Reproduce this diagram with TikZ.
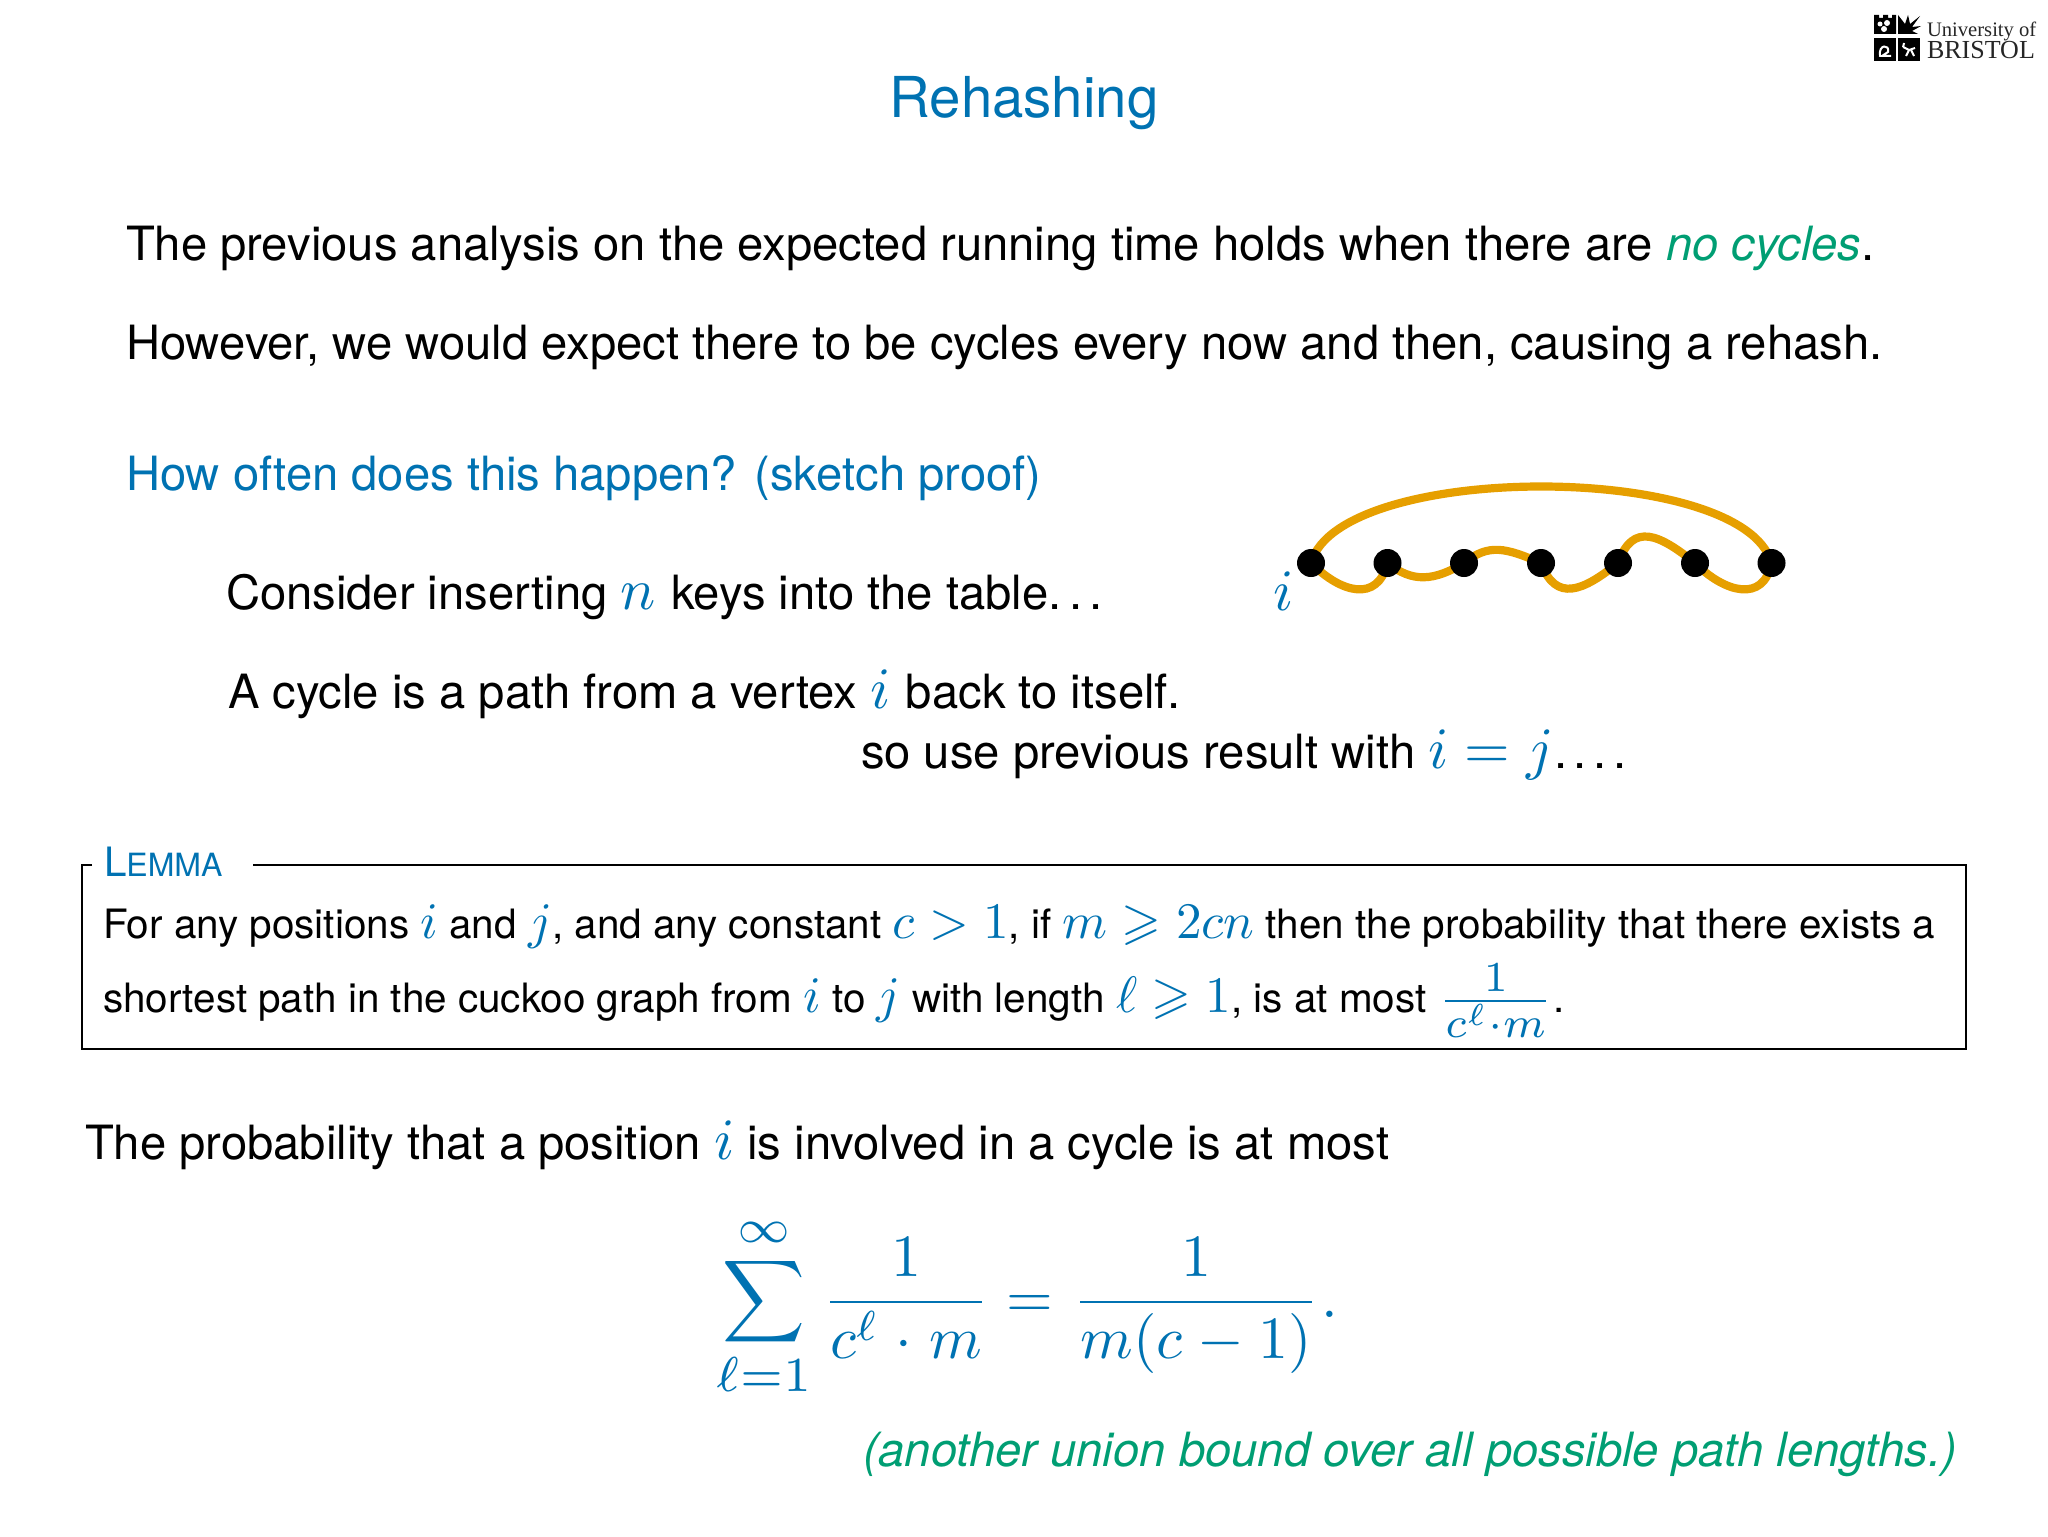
\documentclass[tikz,border=0pt]{standalone}
\usepackage{amsmath,amssymb}
\usepackage[no-math]{fontspec}
\setmainfont{TeX Gyre Heros}
\newfontfamily\logofont{Liberation Serif}
\usetikzlibrary{backgrounds}
\definecolor{bl}{HTML}{0072B2}
\definecolor{gr}{HTML}{009E73}
\definecolor{og}{HTML}{E69F00}
\newcommand\mth[2][2.93]{\scalebox{#1}{\fontsize{10}{12}\selectfont\color{bl}$#2$}}
\newcommand\lm[1]{\mth[2.56]{#1}}
\newcommand\dts{.\kern3.8pt.\kern3.8pt.}
\tikzset{
  txt/.style={anchor=base west,inner sep=0pt,outer sep=0pt,text=black,font=\fontsize{23.6}{28}\selectfont},
  lemtxt/.style={txt,font=\fontsize{20.22}{24}\selectfont},
  vtx/.style={circle,fill=black,inner sep=0pt,minimum size=14pt},
  edgeline/.style={draw=og,line width=4.1pt},
  eqpart/.style={anchor=base,inner sep=0pt,outer sep=0pt},
  logotxt/.style={anchor=base west,inner sep=0pt,outer sep=0pt,text=black!85,font=\logofont}
}
\begin{document}
\begin{tikzpicture}[x=0.5pt,y=-0.5pt]
\useasboundingbox (0,0) rectangle (2048,1536);
% logo
\fill[black] (1874,15) -- (1879,15) -- (1879,18) -- (1883,18) -- (1883,15) -- (1888,15) -- (1888,18) -- (1892,18) -- (1892,15) -- (1896,15) -- (1896,34) -- (1874,34) -- cycle;
\fill[black] (1898,34) -- (1898,15) -- (1905,24) -- (1908,15) -- (1910,24) -- (1920,16) -- (1912,27) -- (1921,26) -- (1912,31) -- (1918,34) -- cycle;
\fill[black] (1874,38) rectangle (1896,61);
\fill[black] (1898,38) rectangle (1920,61);
\fill[white] (1880,24) circle[radius=2.5] (1887,23) circle[radius=3] (1884,29) circle[radius=3];
\draw[white,line width=1pt] (1880,56) .. controls (1878,44) and (1890,44) .. (1888,52) -- (1882,56) -- (1891,56);
\draw[white,line width=1pt] (1903,47) -- (1909,50) -- (1915,48) (1909,50) -- (1906,56) (1911,50) -- (1914,56) (1904,43) -- (1903,47);
\node[logotxt,font=\logofont\fontsize{10.3}{12}\selectfont] (logoa) at (1927,37) {University of};
\node[logotxt,font=\logofont\fontsize{13}{15}\selectfont] (logob) at (1927,59) {BRISTOL};
% title
\node[txt,anchor=base,text=bl,font=\fontsize{28.2}{32}\selectfont] (title) at (1024,118) {Rehashing};
\node[txt] (l1) at (126,260) {The previous analysis on the expected running time holds when there are \textcolor{gr}{\itshape no cycles}.};
\node[txt] (l2) at (126,359) {However, we would expect there to be cycles every now and then, causing a rehash.};
\node[txt,text=bl] (l3) at (126,490) {How often does this happen? (sketch proof)};
\node[txt] (l4) at (226,609) {Consider inserting \mth{n}\kern1pt{} keys into the table\dts};
\node[txt] (l5) at (228,708) {A cycle is a path from a vertex \mth{i}\kern1pt{} back to itself.};
\node[txt] (l6) at (861,768) {so use previous result with \mth{i=j}.\kern3.3pt.\kern3.3pt.\kern3.3pt.};
% graph
\node[vtx] (n1) at (1311,563) {};
\node[vtx] (n2) at (1387.5,563) {};
\node[vtx] (n3) at (1464,563) {};
\node[vtx] (n4) at (1541,563) {};
\node[vtx] (n5) at (1618,563) {};
\node[vtx] (n6) at (1695,563) {};
\node[vtx] (n7) at (1771.5,563) {};
\node[txt] (ilabel) at (1273,610) {\mth{i}};
\begin{pgfonlayer}{background}
\draw[edgeline] (n1.center) .. controls +(28,-102) and +(-28,-102) .. (n7.center);
\draw[edgeline] (n1.center) .. controls +(30,30) and +(-10,40) .. (n2.center);
\draw[edgeline] (n2.center) .. controls +(25,20) and +(-30,18) .. (n3.center);
\draw[edgeline] (n3.center) .. controls +(25,-20) and +(-35,-15) .. (n4.center);
\draw[edgeline] (n4.center) .. controls +(15,40) and +(-35,28) .. (n5.center);
\draw[edgeline] (n5.center) .. controls +(15,-42) and +(-35,-28) .. (n6.center);
\draw[edgeline] (n6.center) .. controls +(30,30) and +(-8,40) .. (n7.center);
\end{pgfonlayer}
% lemma
\draw[black,line width=1.25pt,line join=miter] (92,865) -- (82,865) -- (82,1049) -- (1966,1049) -- (1966,865) -- (253,865);
\node[lemtxt,text=bl] (lemhead) at (104,876) {L{\fontsize{16}{18}\selectfont EMMA}};
\node[lemtxt] (lem1) at (103,938) {For any positions \lm{i} and \lm{j}, and any constant \lm{c>1}, if \lm{m\geqslant 2cn} then the probability that there exists a};
\node[lemtxt] (lem2) at (103,1012) {shortest path in the cuckoo graph from \lm{i} to \lm{j} with length \lm{\ell\geqslant 1}, is at most \raisebox{-2pt}{\mth[3.05]{\frac{1}{c^{\ell}\cdot m}}}.};
% bottom
\node[txt] (p1) at (85,1159) {The probability that a position \mth{i} is involved in a cycle is at most};
\node[eqpart] (eqsum) at (764,1316) {\mth[2.87]{\displaystyle\sum}};
\node[eqpart] (eqinf) at (764,1242) {\mth[3.33]{\scriptstyle\infty}};
\node[eqpart] (eqlow) at (764,1391) {\mth[3.5]{\scriptstyle\ell=1}};
\node[eqpart] (eqa) at (906,1317) {\mth[3]{\displaystyle\frac{1}{c^{\ell}\mkern1mu\cdot\mkern1mu m}}};
\node[eqpart] (eqeq) at (1030,1317) {\mth[3]{=}};
\node[eqpart] (eqb) at (1196,1317) {\mth[3]{\displaystyle\frac{1}{m(c\mkern.4mu-\mkern.4mu1)}}};
\node[eqpart] (eqdot) at (1330,1317) {\mth[3]{.}};
\node[txt,text=gr,font=\fontsize{23.6}{28}\selectfont\itshape] (note) at (863,1466) {(another union bound over all possible path lengths.)};
\end{tikzpicture}
\end{document}
